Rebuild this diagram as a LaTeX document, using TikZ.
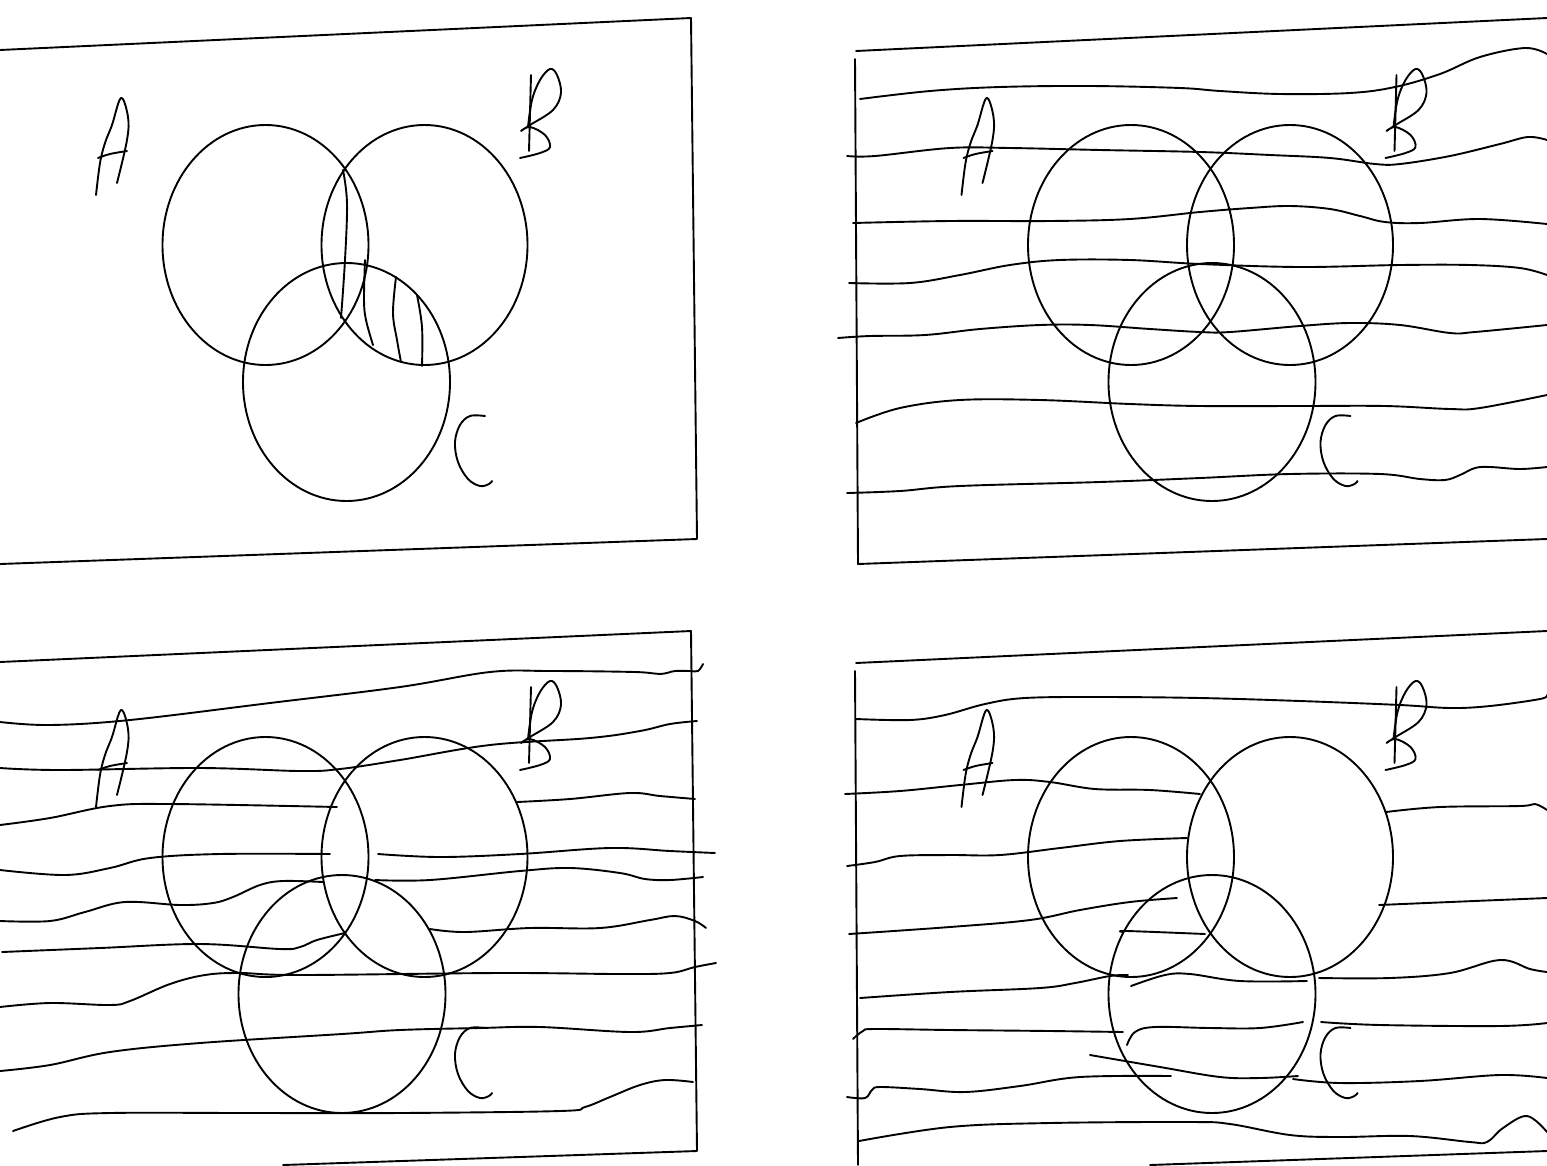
\documentclass[tikz,border=0pt]{standalone}
\tikzset{ink/.style={line width=1.9pt,line cap=round,line join=round},
  handline/.style={ink,smooth,tension=0.6}}
% hand-written letters, at the place they have in the first panel
\newcommand{\handletters}[2]{
  \begin{scope}[shift={(#1,#2)}]
    \draw[handline] plot coordinates {(96,195) (100,163) (105,143) (112,125) (121,98) (128,117) (127,140) (117,183)};
    \draw[handline] plot coordinates {(98,158) (110,154) (127,151)};
    \draw[ink] (531,75) -- (529,151);
    \draw[handline] plot coordinates {(520,158) (540,153) (550,147) (545,135) (530,127) (521,131) (530,125) (553,110) (561,93) (557,75) (550,69) (540,80) (532,100) (528,127)};
    \draw[handline] plot coordinates {(485,416) (470,416) (460,425) (455,442) (458,462) (468,479) (480,486) (489,484) (492,481)};
  \end{scope}
}
\begin{document}
\begin{tikzpicture}[x=1pt,y=-1pt]
    \useasboundingbox (0,0) rectangle (1547,1165);
    % panel top left
    \draw[ink] (0,50) -- (691,18) -- (697,539) -- (0,564);
    \draw[ink] (265.5,245) ellipse [x radius=103,y radius=120];
    \draw[ink] (424.5,245) ellipse [x radius=103,y radius=120];
    \draw[ink] (346.5,382) ellipse [x radius=103.5,y radius=119];
    \handletters{0}{0}
    \draw[handline] plot coordinates {(343,170) (347,203) (345,260) (341,318)};
    \draw[handline] plot coordinates {(365,260) (364,300) (366,320) (373,345)};
    \draw[handline] plot coordinates {(396,277) (393,313) (397,340) (401,362)};
    \draw[handline] plot coordinates {(417,295) (422,327) (422,366)};
    % panel top right
    \draw[ink] (856,51) -- (1547,18);
    \draw[ink] (855,59) -- (858,564) -- (1547,539);
    \draw[ink] (1131,245) ellipse [x radius=103,y radius=120];
    \draw[ink] (1290,245) ellipse [x radius=103,y radius=120];
    \draw[ink] (1212,382) ellipse [x radius=103.5,y radius=119];
    \handletters{865.5}{0}
    \draw[handline] plot coordinates {(860,99) (930,91) (1000,87) (1090,86) (1180,88) (1220,91) (1280,94) (1350,93) (1395,87) (1440,74) (1480,57) (1525,48) (1547,54)};
    \draw[handline] plot coordinates {(847,156) (875,156) (950,148) (1010,148) (1100,150) (1200,152) (1270,155) (1330,158) (1375,164) (1400,164) (1450,156) (1500,144) (1528,137) (1547,140)};
    \draw[handline] plot coordinates {(853,223) (950,221) (1050,221) (1130,219) (1200,212) (1250,208) (1290,206) (1330,209) (1360,216) (1385,222) (1420,223) (1480,219) (1547,224)};
    \draw[handline] plot coordinates {(849,283) (910,283) (960,275) (1010,265) (1060,260) (1130,260) (1200,264) (1300,267) (1400,265) (1470,265) (1520,268) (1547,275)};
    \draw[handline] plot coordinates {(838,338) (870,336) (925,335) (980,329) (1040,325) (1090,325) (1150,329) (1200,332) (1230,332) (1300,326) (1350,323) (1400,325) (1450,333) (1475,332) (1547,325)};
    \draw[handline] plot coordinates {(856,423) (900,408) (960,400) (1040,400) (1130,404) (1200,406) (1300,406) (1385,406) (1450,409) (1480,408) (1547,395)};
    \draw[handline] plot coordinates {(847,493) (900,491) (960,486) (1100,482) (1200,478) (1290,474) (1380,474) (1420,479) (1445,480) (1460,475) (1475,468) (1490,467) (1520,469) (1547,467)};
    % panel bottom left
    \draw[ink] (0,662) -- (691,631) -- (697,1151) -- (283,1165);
    \draw[ink] (265.5,857) ellipse [x radius=103,y radius=120];
    \draw[ink] (424.5,857) ellipse [x radius=103,y radius=120];
    \draw[ink] (342,994) ellipse [x radius=103.5,y radius=119];
    \handletters{0}{612}
    \draw[handline] plot coordinates {(0,722) (50,725) (130,720) (270,703) (400,687) (490,672) (550,671) (635,672) (660,674) (675,671) (690,671) (698,671) (703,664)};
    \draw[handline] plot coordinates {(0,768) (60,770) (200,768) (300,771) (340,769) (400,760) (490,745) (590,738) (640,731) (670,724) (697,721)};
    \draw[handline] plot coordinates {(0,825) (50,818) (110,806) (170,804) (337,807)};
    \draw[handline] plot coordinates {(517,802) (570,799) (630,793) (660,796) (695,799)};
    \draw[handline] plot coordinates {(0,870) (65,875) (110,868) (150,858) (220,854) (330,854)};
    \draw[handline] plot coordinates {(378,854) (440,857) (520,854) (610,848) (670,851) (715,853)};
    \draw[handline] plot coordinates {(0,921) (50,921) (85,912) (125,902) (180,905) (213,903) (233,897) (260,885) (283,881) (323,882)};
    \draw[handline] plot coordinates {(375,880) (430,880) (520,871) (570,868) (620,873) (645,879) (670,880) (703,877)};
    \draw[handline] plot coordinates {(2,952) (100,948) (200,944) (280,949) (300,947) (317,940) (345,933)};
    \draw[handline] plot coordinates {(430,929) (465,932) (530,928) (600,928) (650,920) (675,916) (695,921) (706,928)};
    \draw[handline] plot coordinates {(0,1007) (50,1003) (110,1005) (130,1001) (170,984) (205,975) (240,973) (300,975) (500,973) (620,974) (670,973) (695,967) (716,963)};
    \draw[handline] plot coordinates {(0,1071) (50,1065) (110,1052) (200,1043) (342,1034) (400,1030) (480,1028) (540,1027) (630,1032) (670,1028) (702,1025)};
    \draw[handline] plot coordinates {(13,1131) (60,1117) (110,1113) (250,1113) (400,1113) (560,1111) (585,1107) (610,1097) (640,1085) (665,1080) (693,1082)};
    % panel bottom right
    \draw[ink] (856,663) -- (1547,631);
    \draw[ink] (855,671) -- (858,1165);
    \draw[ink] (1150,1165) -- (1547,1151);
    \draw[ink] (1131,857) ellipse [x radius=103,y radius=120];
    \draw[ink] (1290,857) ellipse [x radius=103,y radius=120];
    \draw[ink] (1212,994) ellipse [x radius=103.5,y radius=119];
    \handletters{865.5}{612}
    \draw[handline] plot coordinates {(856,719) (910,720) (945,715) (985,704) (1025,698) (1100,697) (1200,698) (1300,701) (1400,705) (1450,708) (1490,706) (1540,699) (1547,695)};
    \draw[handline] plot coordinates {(845,794) (900,791) (960,785) (1015,780) (1050,782) (1095,789) (1150,790) (1200,794)};
    \draw[handline] plot coordinates {(847,866) (875,862) (900,856) (950,855) (1000,855) (1060,848) (1120,841) (1187,838)};
    \draw[handline] plot coordinates {(1386,812) (1440,807) (1520,806) (1535,804) (1547,810)};
    \draw[handline] plot coordinates {(849,934) (950,927) (1030,920) (1080,910) (1130,902) (1177,898)};
    \draw[handline] plot coordinates {(1123,932) (1127,931) (1205,934)};
    \draw[handline] plot coordinates {(1379,905) (1450,902) (1547,898)};
    \draw[handline] plot coordinates {(860,998) (950,992) (1040,988) (1075,983) (1110,976) (1128,975)};
    \draw[handline] plot coordinates {(1131,986) (1165,975) (1190,974) (1240,981) (1307,981)};
    \draw[handline] plot coordinates {(1319,978) (1390,978) (1450,973) (1500,960) (1530,969) (1547,972)};
    \draw[handline] plot coordinates {(853,1039) (863,1031) (875,1029) (950,1030) (1050,1031) (1123,1032)};
    \draw[handline] plot coordinates {(1127,1045) (1135,1032) (1155,1027) (1210,1028) (1260,1028) (1303,1022)};
    \draw[handline] plot coordinates {(1321,1022) (1380,1025) (1500,1026) (1547,1023)};
    \draw[handline] plot coordinates {(847,1097) (865,1098) (872,1090) (880,1087) (920,1089) (965,1092) (1020,1086) (1080,1077) (1171,1076)};
    \draw[handline] plot coordinates {(1090,1055) (1160,1067) (1220,1077) (1260,1078) (1298,1076)};
    \draw[handline] plot coordinates {(1293,1079) (1340,1083) (1420,1081) (1500,1075) (1547,1078)};
    \draw[handline] plot coordinates {(859,1141) (950,1127) (1050,1123) (1190,1122) (1230,1124) (1290,1135) (1340,1137) (1410,1136) (1470,1142) (1487,1142) (1503,1128) (1527,1116) (1547,1132)};
\end{tikzpicture}
\end{document}
